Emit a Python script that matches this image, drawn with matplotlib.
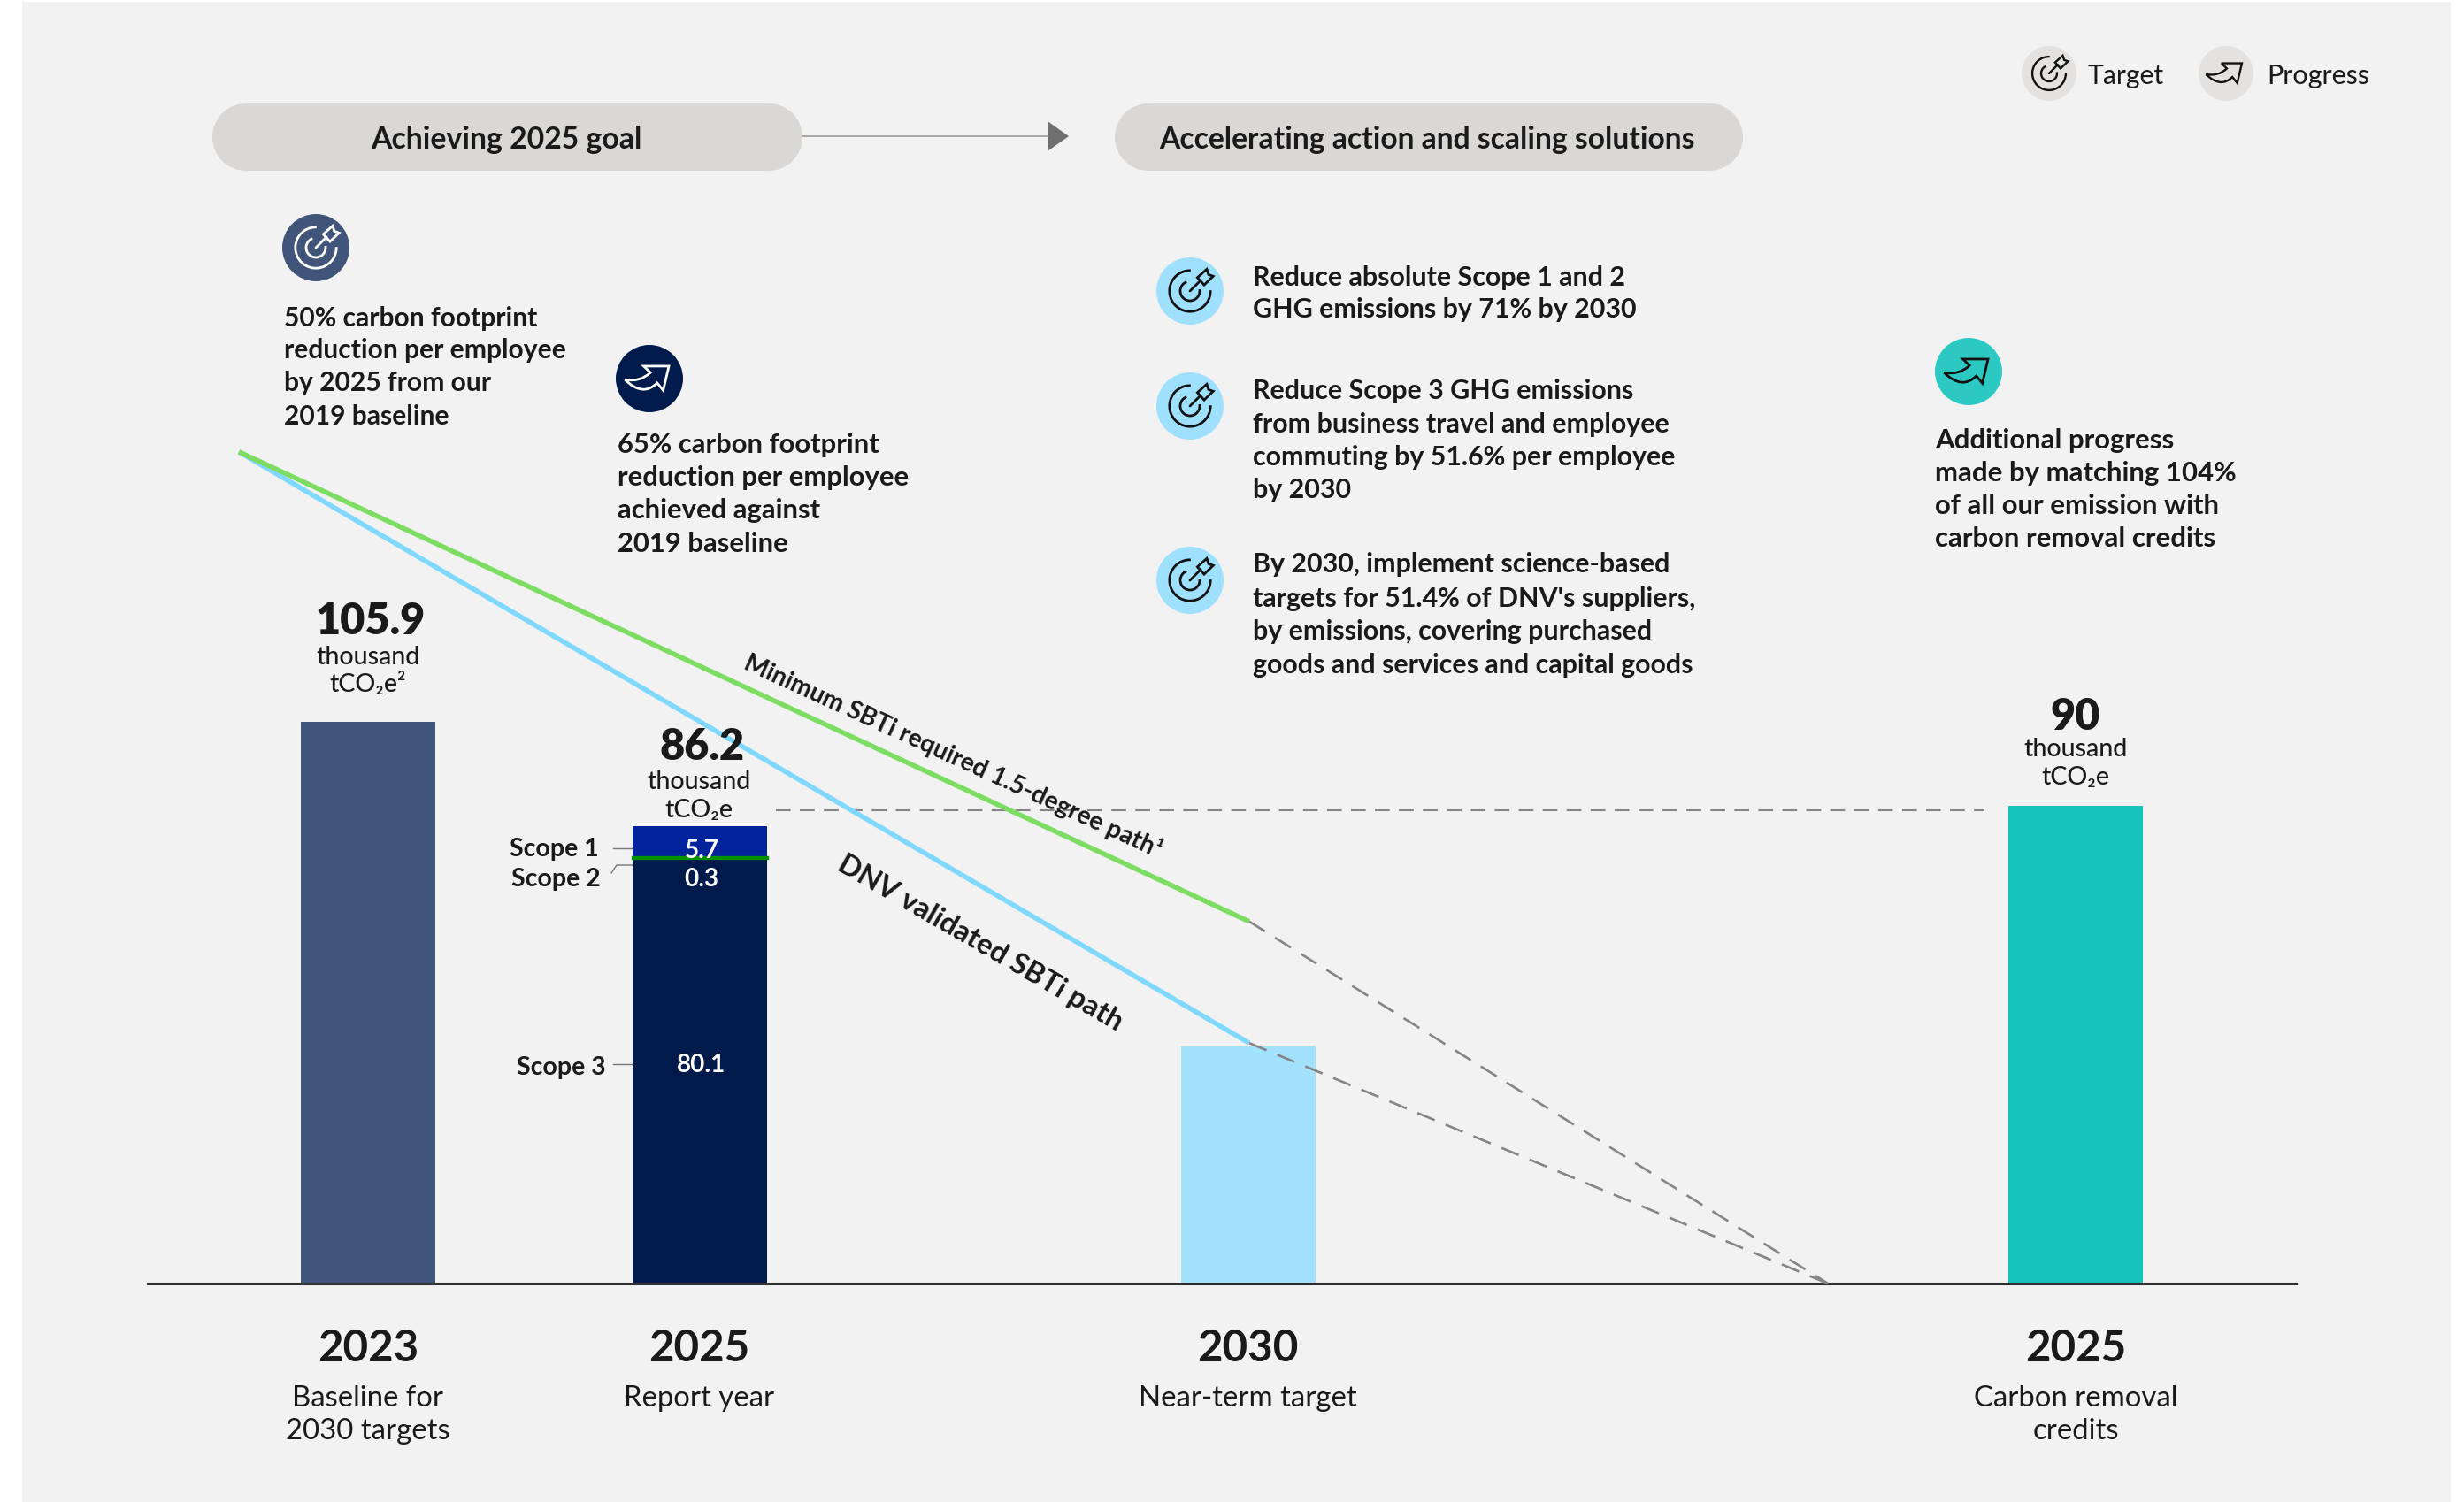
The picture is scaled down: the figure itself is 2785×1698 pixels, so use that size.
import matplotlib
matplotlib.use("Agg")
from matplotlib import pyplot as plt
from matplotlib.patches import Circle, PathPatch, Polygon, Rectangle, Arc
from matplotlib.path import Path

# emissions in thousand tCO2e
bar_values = [105.9, 44.7, 90]
scope_values = [80.1, 0.3, 5.7]
scope_names = ["Scope 3", "Scope 2", "Scope 1"]
path_start = 156.7
green_path_end = 68.2
blue_path_end = 45.3
reference_level = 89.2

years = ["2023", "2025", "2030", "2025"]
year_notes = [["Baseline for", "2030 targets"], ["Report year"], ["Near-term target"], ["Carbon removal", "credits"]]

goal_lines = ["50% carbon footprint", "reduction per employee", "by 2025 from our", "2019 baseline"]
achieved_lines = ["65% carbon footprint", "reduction per employee", "achieved against", "2019 baseline"]
target_a = ["Reduce absolute Scope 1 and 2", "GHG emissions by 71% by 2030"]
target_b = ["Reduce Scope 3 GHG emissions", "from business travel and employee", "commuting by 51.6% per employee", "by 2030"]
target_c = ["By 2030, implement science-based", "targets for 51.4% of DNV's suppliers,", "by emissions, covering purchased", "goods and services and capital goods"]
removal_lines = ["Additional progress", "made by matching 104%", "of all our emission with", "carbon removal credits"]

W, H = 2785, 1699
BASE_Y = 1452
PX_PER_UNIT = 6.0
AX_LEFT, AX_RIGHT = 167, 2595
FONT = ["Lato", "DejaVu Sans"]
INK = "#1a1a1a"

plt.rcParams["font.family"] = FONT

fig = plt.figure(figsize=(W / 100, H / 100), dpi=100, facecolor="white")
fig.add_artist(Rectangle((25 / W, 0), 2745 / W, 1 - 3 / H, transform=fig.transFigure,
                         facecolor="#f2f2f2", edgecolor="none", zorder=-5))

# chart axes: x in hundreds of pixels from the axis start, y in thousand tCO2e
ax = fig.add_axes([AX_LEFT / W, 1 - BASE_Y / H, (AX_RIGHT - AX_LEFT) / W, BASE_Y / H])
ax.set_xlim(0, (AX_RIGHT - AX_LEFT) / 100)
ax.set_ylim(0, BASE_Y / PX_PER_UNIT)
ax.patch.set_alpha(0)
for side in ["top", "left", "right"]:
    ax.spines[side].set_visible(False)
ax.spines["bottom"].set_linewidth(2.2)
ax.spines["bottom"].set_color("#333333")
ax.set_xticks([])
ax.set_yticks([])

slot = {"base": 2.49, "report": 6.24, "target": 12.44, "removal": 21.79, "start": 1.03, "end": 12.45, "zero": 18.99}
bar_w = 1.52

ax.bar(slot["base"], bar_values[0], bar_w, color="#41547a")
ax.bar(slot["target"], bar_values[1], bar_w, color="#a3e2ff")
ax.bar(slot["removal"], bar_values[2], bar_w, color="#15c3bc")

scope_colors = ["#001a4b", "#009000", "#00239c"]
bottom = 0
for name, v, c in zip(scope_names, scope_values, scope_colors):
    # the thin scope 2 slice gets an outline so that it stays visible
    lw = 2.4 if name == "Scope 2" else 0
    ax.bar(slot["report"], v, bar_w, bottom=bottom, color=c, edgecolor=c, linewidth=lw, zorder=3 if lw else 2, label=name)
    bottom += v

dash = (0, (8, 5))
ax.plot([slot["start"], slot["end"]], [path_start, blue_path_end], color="#80d8ff", lw=4.0, solid_capstyle="butt", zorder=4)
ax.plot([slot["start"], slot["end"]], [path_start, green_path_end], color="#7ddc62", lw=4.0, solid_capstyle="butt", zorder=4)
ax.plot([slot["end"], slot["zero"]], [green_path_end, 0], color="#858585", lw=1.9, ls=dash, zorder=4)
ax.plot([slot["end"], slot["zero"]], [blue_path_end, 0], color="#858585", lw=1.9, ls=dash, zorder=4)
ax.plot([7.10, 20.76], [reference_level, reference_level], color="#858585", lw=1.5, ls=dash, zorder=1)

# overlay in pixel coordinates for the annotation layout
ov = fig.add_axes([0, 0, 1, 1])
ov.set_xlim(0, W)
ov.set_ylim(H, 0)
ov.axis("off")
ov.patch.set_alpha(0)


def put(x, y, s, size=21.5, ha="left", weight="medium", color=INK, **kw):
    ov.text(x, y + 2.5, s, fontsize=size, ha=ha, va="center", fontweight=weight, color=color, **kw)


def put_lines(x, ys, lines, **kw):
    for y, s in zip(ys, lines):
        put(x, y, s, **kw)


def target_icon(cx, cy, r, bg, fg, lw=2.0):
    ov.add_patch(Circle((cx, cy), r, facecolor=bg, edgecolor="none"))
    # y axis is inverted, so arc angles run clockwise on screen
    ov.add_patch(Arc((cx, cy), 1.22 * r, 1.22 * r, theta1=-2, theta2=272, edgecolor=fg, lw=lw))
    ov.add_patch(Arc((cx, cy), 0.58 * r, 0.58 * r, theta1=-10, theta2=250, edgecolor=fg, lw=lw))
    ov.plot([cx, cx + 0.32 * r], [cy, cy - 0.32 * r], color=fg, lw=lw, solid_capstyle="round")
    fletch = [(0.22, 0.40), (0.50, 0.65), (0.55, 0.49), (0.69, 0.44), (0.42, 0.18)]
    ov.add_patch(Polygon([(cx + a * r, cy - b * r) for a, b in fletch], closed=True, facecolor="none", edgecolor=fg, lw=lw))


def progress_icon(cx, cy, r, bg, fg, lw=2.0):
    ov.add_patch(Circle((cx, cy), r, facecolor=bg, edgecolor="none"))
    pts = [(-0.73, -0.03), (-0.28, -0.12), (0.03, 0.18), (-0.17, 0.37), (0.58, 0.37), (0.41, -0.35), (0.23, -0.13), (-0.19, -0.56), (-0.73, -0.03)]
    codes = [Path.MOVETO, Path.CURVE3, Path.CURVE3, Path.LINETO, Path.LINETO, Path.LINETO, Path.LINETO, Path.CURVE3, Path.CURVE3]
    ov.add_patch(PathPatch(Path([(cx + a * r, cy - b * r) for a, b in pts], codes), facecolor="none", edgecolor=fg, lw=lw, joinstyle="miter"))


def pill(x0, x1, y0, y1):
    r = (y1 - y0) / 2
    ov.add_patch(Rectangle((x0 + 38, y0), x1 - x0 - 76, y1 - y0, facecolor="#d9d8d6", edgecolor="none"))
    ov.add_patch(Circle((x0 + 38, y0 + r), r, facecolor="#d9d8d6", edgecolor="none"))
    ov.add_patch(Circle((x1 - 38, y0 + r), r, facecolor="#d9d8d6", edgecolor="none"))


# header band
pill(240, 907, 118, 194)
pill(1260, 1970, 118, 194)
put(572, 156, "Achieving 2025 goal", size=24.3, ha="center", weight="bold")
put(1613, 156, "Accelerating action and scaling solutions", size=24.2, ha="center", weight="bold")
ov.plot([907, 1184], [155, 155], color="#9a9a9a", lw=1.2)
ov.add_patch(Polygon([(1184, 138), (1208, 155), (1184, 172)], closed=True, facecolor="#6f6f6f", edgecolor="none"))

# legend
target_icon(2316, 84, 31, "#e3e2e0", "#111111", lw=1.7)
progress_icon(2516, 84, 31, "#e3e2e0", "#111111", lw=1.7)
put(2360, 83, "Target", size=21.7, weight="normal")
put(2562, 83, "Progress", size=22, weight="normal")

# callouts
target_icon(357, 281, 38, "#41547a", "white")
put_lines(321, [357, 394, 431, 469], goal_lines, weight="bold", size=21.6)
progress_icon(734, 429, 38, "#001a4b", "white")
put_lines(698, [501, 538, 575, 613], achieved_lines, weight="bold", size=22.3)

for cy in [330, 460, 657]:
    target_icon(1345, cy, 38, "#a0e0ff", "#111111")
put_lines(1416, [311, 348], target_a, weight="bold", size=21.9)
put_lines(1416, [440, 478, 515, 552], target_b, weight="bold", size=21.9)
put_lines(1416, [636, 675, 712, 750], target_c, weight="bold", size=21.9)

progress_icon(2225, 421, 38, "#2cc9c2", "#111111")
put_lines(2187, [496, 533, 570, 607], removal_lines, weight="bold", size=22.4)

# totals above the bars
put(419, 700, "105.9", size=35, ha="center", weight="heavy")
put(416, 741, "thousand", size=20.6, ha="center")
put(416, 771, "tCO₂e²", size=20.6, ha="center")
put(794, 842, "86.2", size=35, ha="center", weight="heavy")
put(790, 882, "thousand", size=20.6, ha="center")
put(790, 914, "tCO₂e", size=20.6, ha="center")
put(2346, 808, "90", size=35, ha="center", weight="heavy")
put(2346, 845, "thousand", size=20.6, ha="center")
put(2346, 877, "tCO₂e", size=20.6, ha="center")

# scope labels and leaders
put(677, 958, "Scope 1", size=20.5, ha="right", weight="bold")
put(679, 992, "Scope 2", size=20.5, ha="right", weight="bold")
put(685, 1205, "Scope 3", size=20.5, ha="right", weight="bold")
ov.plot([693, 715], [960, 960], color="#777777", lw=1.0)
ov.plot([691, 697, 715], [988, 979, 979], color="#777777", lw=1.0)
ov.plot([693, 715], [1204, 1204], color="#777777", lw=1.0)
put(793, 960, "5.7", size=20, ha="center", color="white", weight="bold")
put(793, 992, "0.3", size=20, ha="center", color="white", weight="bold")
put(793, 1202, "80.1", size=20, ha="center", color="white", weight="bold")

# path names follow the line slopes
put(1078, 852, "Minimum SBTi required 1.5-degree path¹", size=20.3, ha="center", weight="bold", rotation=-24.6, rotation_mode="anchor")
put(1108, 1064, "DNV validated SBTi path", size=23.8, ha="center", weight="bold", rotation=-30, rotation_mode="anchor")

# x labels
for cx, yr, notes in zip([416, 790, 1410, 2346], years, year_notes):
    put(cx, 1522, yr, size=35.5, ha="center", weight="bold")
    put_lines(cx, [1579, 1616], notes, size=23.7, ha="center", weight="normal")

fig.savefig("out.png", dpi=100, facecolor="white")
